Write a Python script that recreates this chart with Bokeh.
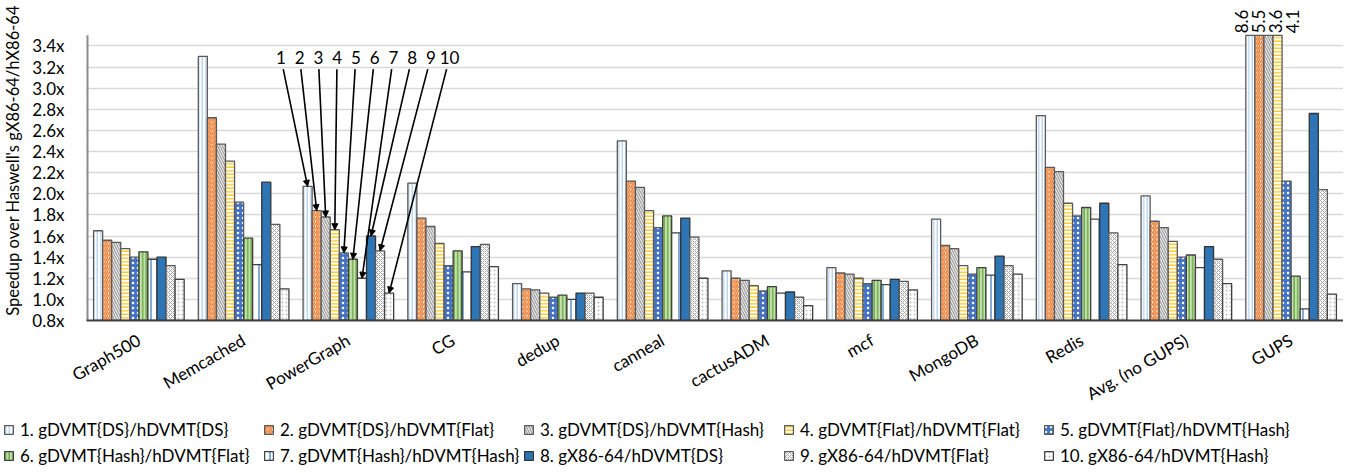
import numpy as np
from bokeh.plotting import figure
from bokeh.core.properties import value
from bokeh.models import (ColumnDataSource, FixedTicker, PrintfTickFormatter, Legend, LegendItem,
                          Arrow, NormalHead, LabelSet, Range1d)
from bokeh.embed import file_html
from bokeh.resources import INLINE

categories = ["Graph500", "Memcached", "PowerGraph", "CG", "dedup", "canneal", "cactusADM",
              "mcf", "MongoDB", "Redis", "Avg. (no GUPS)", "GUPS"]

series_names = ["1. gDVMT{DS}/hDVMT{DS}", "2. gDVMT{DS}/hDVMT{Flat}", "3. gDVMT{DS}/hDVMT{Hash}",
                "4. gDVMT{Flat}/hDVMT{Flat}", "5. gDVMT{Flat}/hDVMT{Hash}", "6. gDVMT{Hash}/hDVMT{Flat}",
                "7. gDVMT{Hash}/hDVMT{Hash}", "8. gX86-64/hDVMT{DS}", "9. gX86-64/hDVMT{Flat}",
                "10. gX86-64/hDVMT{Hash}"]

s1 = [1.65, 3.30, 2.07, 2.10, 1.15, 2.50, 1.27, 1.30, 1.76, 2.74, 1.98, 8.6]
s2 = [1.56, 2.72, 1.84, 1.77, 1.10, 2.12, 1.20, 1.25, 1.51, 2.25, 1.74, 5.5]
s3 = [1.54, 2.47, 1.78, 1.69, 1.09, 2.06, 1.18, 1.24, 1.48, 2.21, 1.68, 3.6]
s4 = [1.48, 2.31, 1.66, 1.53, 1.06, 1.84, 1.13, 1.20, 1.32, 1.91, 1.55, 4.1]
s5 = [1.40, 1.92, 1.44, 1.32, 1.02, 1.68, 1.08, 1.15, 1.24, 1.79, 1.40, 2.12]
s6 = [1.45, 1.58, 1.38, 1.46, 1.04, 1.79, 1.12, 1.18, 1.30, 1.87, 1.42, 1.22]
s7 = [1.38, 1.33, 1.20, 1.26, 1.00, 1.63, 1.06, 1.14, 1.23, 1.76, 1.30, 0.91]
s8 = [1.40, 2.11, 1.60, 1.50, 1.06, 1.77, 1.07, 1.19, 1.41, 1.91, 1.50, 2.76]
s9 = [1.32, 1.71, 1.46, 1.52, 1.06, 1.59, 1.02, 1.17, 1.32, 1.63, 1.38, 2.04]
s10 = [1.19, 1.10, 1.06, 1.31, 1.02, 1.20, 0.94, 1.09, 1.24, 1.33, 1.15, 1.05]
series = [s1, s2, s3, s4, s5, s6, s7, s8, s9, s10]

y_ticks = [0.8, 1.0, 1.2, 1.4, 1.6, 1.8, 2.0, 2.2, 2.4, 2.6, 2.8, 3.0, 3.2, 3.4]
y_min, y_max = 0.8, 3.5      # value axis extent
y_view_top = 3.83            # room above the axis for the clipped-bar values

FONT = "Lato"
styles = [
    dict(fill_color="white", hatch_pattern="vertical_line", hatch_color="#9DC3E6", hatch_scale=3.5, hatch_weight=1, line_color="#595959"),
    dict(fill_color="white", hatch_pattern="right_diagonal_line", hatch_color="#ED7D31", hatch_scale=4.5, hatch_weight=1.6, line_color="#595959"),
    dict(fill_color="white", hatch_pattern="left_diagonal_line", hatch_color="#A5A5A5", hatch_scale=5, hatch_weight=1.5, line_color="#595959"),
    dict(fill_color="white", hatch_pattern="horizontal_line", hatch_color="#FFC000", hatch_scale=3.5, hatch_weight=1.2, line_color="#595959"),
    dict(fill_color="#4472C4", hatch_pattern="dot", hatch_color="white", hatch_scale=5, hatch_weight=2.2, line_color="#595959"),
    dict(fill_color="#C5E0B4", hatch_pattern="vertical_line", hatch_color="#70AD47", hatch_scale=3.5, hatch_weight=1.6, line_color="#404040"),
    dict(fill_color="white", hatch_pattern="vertical_line", hatch_color="#2E75B6", hatch_scale=12, hatch_weight=1.2, line_color="#404040"),
    dict(fill_color="#2E75B6", line_color="#333333"),
    dict(fill_color="white", hatch_pattern="diagonal_cross", hatch_color="#A5A5A5", hatch_scale=4, hatch_weight=1, line_color="#595959"),
    dict(fill_color="white", hatch_pattern="dot", hatch_color="#BFBFBF", hatch_scale=4, hatch_weight=0.8, line_color="#404040"),
]

n_groups = len(categories)
n_series = len(series)
bar_w = 0.0865

p = figure(width=1343, height=415, frame_width=1257, frame_height=320,
           output_backend="svg", toolbar_location=None,
           x_range=Range1d(-0.5, n_groups - 0.5), y_range=Range1d(y_min, y_view_top),
           min_border_left=86, min_border_top=0, min_border_bottom=95, min_border_right=0)
p.outline_line_color = None

renderers = []
for j, vals in enumerate(series):
    xs = np.arange(n_groups) + (j - (n_series - 1) / 2) * bar_w
    src = ColumnDataSource(dict(x=xs, top=np.minimum(vals, y_max)))
    r = p.vbar(x="x", top="top", bottom=0, width=bar_w, source=src, line_width=1.3, **styles[j])
    renderers.append(r)

# left value axis line (stops at the top of the value range)
p.segment(x0=[-0.5], y0=[y_min], x1=[-0.5], y1=[y_max], line_color="#8C8C8C", line_width=4)

# axes
p.yaxis.ticker = FixedTicker(ticks=y_ticks)
p.yaxis.formatter = PrintfTickFormatter(format="%.1fx")
p.yaxis.axis_label = "Speedup over Haswell's gX86-64/hX86-64"
p.yaxis.axis_label_text_font = FONT
p.yaxis.axis_label_text_font_size = "16.5px"
p.yaxis.axis_label_text_font_style = "normal"
p.yaxis.axis_label_text_color = "black"
p.yaxis.axis_label_standoff = 6
p.yaxis.major_label_text_font = FONT
p.yaxis.major_label_text_font_size = "17px"
p.yaxis.major_label_text_color = "black"
p.yaxis.axis_line_color = None
p.yaxis.major_tick_line_color = None
p.yaxis.minor_tick_line_color = None
p.yaxis.major_label_standoff = 16

p.xaxis.ticker = FixedTicker(ticks=list(range(n_groups)))
p.xaxis.major_label_overrides = {i: c for i, c in enumerate(categories)}
p.xaxis.major_label_orientation = 0.52
p.xaxis.major_label_text_font = FONT
p.xaxis.major_label_text_font_size = "17px"
p.xaxis.major_label_text_color = "black"
p.xaxis.axis_line_color = "#404040"
p.xaxis.axis_line_width = 2
p.xaxis.major_tick_line_color = None
p.xaxis.minor_tick_line_color = None
p.xaxis.major_label_standoff = 12

p.xgrid.grid_line_color = None
p.ygrid.grid_line_color = "#D9D9D9"
p.ygrid.grid_line_width = 1.5

# annotation numbers and arrows for PowerGraph group
ann_group = 2
ann_label_y = 3.29
ann_start_y = 3.18
ann_label_x0 = -0.645
ann_label_step = 0.179
lx = [ann_group + ann_label_x0 + k * ann_label_step for k in range(n_series)]
ex = [ann_group + (k - (n_series - 1) / 2) * bar_w for k in range(n_series)]
ey = [series[k][ann_group] for k in range(n_series)]
sx = [lx[k] + (ex[k] - lx[k]) * (ann_label_y - ann_start_y) / (ann_label_y - ey[k]) for k in range(n_series)]
ann_src = ColumnDataSource(dict(lx=lx, ly=[ann_label_y] * n_series, t=[str(k + 1) for k in range(n_series)],
                                xs=sx, ys=[ann_start_y] * n_series, xe=ex, ye=ey))
p.add_layout(LabelSet(x="lx", y="ly", text="t", source=ann_src, text_align="center", text_baseline="middle",
                      text_font=value(FONT), text_font_size=value("17px"), text_color="black"))
p.add_layout(Arrow(end=NormalHead(size=6, fill_color="black", line_color="black", line_width=1),
                   x_start="xs", y_start="ys", x_end="xe", y_end="ye", source=ann_src,
                   line_color="black", line_width=1.6))

# values of the GUPS bars that run off the axis (spread out above the group)
g = n_groups - 1
over_lbl_x0 = -0.47
over_lbl_step = 0.162
over = [(j, series[j][g]) for j in range(n_series) if series[j][g] > y_max]
ov_src = ColumnDataSource(dict(x=[g + over_lbl_x0 + k * over_lbl_step for k in range(len(over))],
                               y=[y_max] * len(over), t=[f"{v:.1f}" for _, v in over]))
p.add_layout(LabelSet(x="x", y="y", text="t", source=ov_src, angle=np.pi / 2, text_align="left",
                      text_baseline="middle", y_offset=2,
                      text_font=value(FONT), text_font_size=value("17px"), text_color="black"))

# legend in its own strip (separate root so it can start at the page's left edge)
p2 = figure(width=1343, height=55, output_backend="svg", toolbar_location=None,
            x_range=Range1d(100, 101), y_range=Range1d(100, 101),
            x_axis_location=None, y_axis_location=None,
            min_border=0, outline_line_color=None)
p2.grid.visible = False
leg_renderers = []
for j, vals in enumerate(series):
    src2 = ColumnDataSource(dict(x=np.arange(n_groups), top=vals))
    leg_renderers.append(p2.vbar(x="x", top="top", bottom=0, width=0.5, source=src2, line_width=1.2, **styles[j]))
col_pitch = 260
col_x0 = 3
n_cols = 5
for c in range(n_cols):
    idx = [c, c + n_cols]
    lg = Legend(items=[LegendItem(label=series_names[k], renderers=[leg_renderers[k]]) for k in idx],
                location=(col_x0 + c * col_pitch, 5), orientation="vertical",
                label_text_font=FONT, label_text_font_size="17px", label_text_color="black",
                glyph_width=11, glyph_height=11, label_standoff=6, spacing=5,
                padding=0, margin=0, border_line_color=None, background_fill_alpha=0,
                label_height=20)
    p2.add_layout(lg, "center")

open("out.html", "w").write(file_html([p, p2], INLINE))
